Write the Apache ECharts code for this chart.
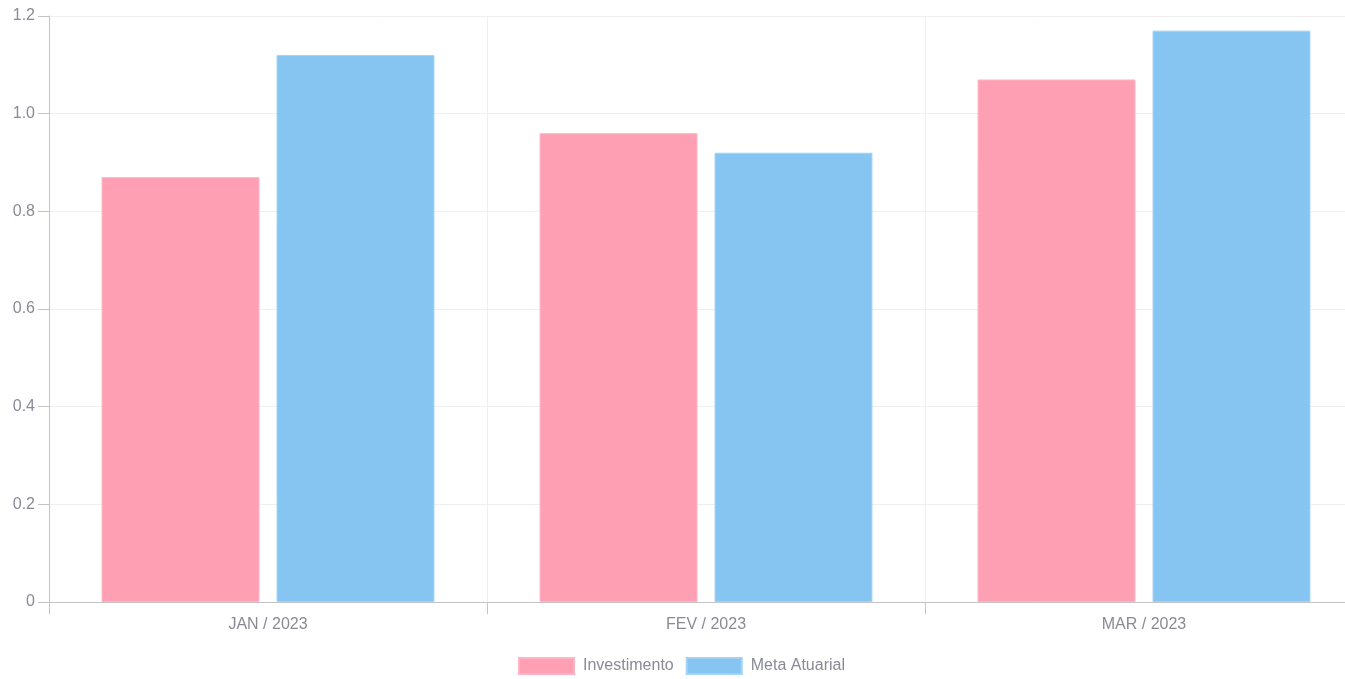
<!DOCTYPE html>
<html>
<head>
<meta charset="utf-8">
<script src="https://cdn.jsdelivr.net/npm/echarts@6/dist/echarts.min.js"></script>
<style>
  html, body { margin: 0; padding: 0; background: #fff; overflow: hidden; }
  /* the canvas runs a little past the right edge of the window */
  #chart { width: 1363px; height: 679px; }
</style>
</head>
<body>
<div id="chart"></div>
<script>
// Monthly figures
const categories = ['JAN / 2023', 'FEV / 2023', 'MAR / 2023'];
const investimento = [0.87, 0.96, 1.07];
const metaAtuarial = [1.12, 0.92, 1.17];
const yTicks = { min: 0, max: 1.2, interval: 0.2 };

const textColor = '#8a8a96';
const gridColor = '#efefef';
const axisColor = '#c4c4c8';
const font = 'Arial, "Liberation Sans", Helvetica, sans-serif';

const chart = echarts.init(document.getElementById('chart'));
chart.setOption({
  animation: false,
  textStyle: { fontFamily: font },
  grid: { left: 49, right: 0, top: 16, bottom: 77, containLabel: false },
  legend: {
    top: 657,
    left: 'center',
    padding: 0,
    itemWidth: 55,
    itemHeight: 16,
    itemGap: 12,
    icon: 'rect',
    textStyle: { color: textColor, fontSize: 16, fontFamily: font, padding: [0, 0, 0, 4] },
    data: ['Investimento', 'Meta Atuarial']
  },
  xAxis: {
    type: 'category',
    data: categories,
    axisLine: { lineStyle: { color: axisColor, width: 1 } },
    axisTick: { show: true, length: 12, lineStyle: { color: axisColor } },
    axisLabel: { color: textColor, fontSize: 16, margin: 15 },
    splitLine: { show: true, lineStyle: { color: gridColor } }
  },
  yAxis: {
    type: 'value',
    min: yTicks.min,
    max: yTicks.max,
    interval: yTicks.interval,
    axisLine: { show: true, lineStyle: { color: axisColor, width: 1 } },
    axisTick: { show: true, length: 11, lineStyle: { color: axisColor } },
    axisLabel: {
      color: textColor,
      fontSize: 16,
      margin: 14,
      formatter: v => (v === 0 ? '0' : v.toFixed(1))
    },
    splitLine: { show: true, lineStyle: { color: gridColor } }
  },
  series: [
    {
      name: 'Investimento',
      type: 'bar',
      data: investimento,
      barGap: '10.8%',
      barCategoryGap: '24%',
      itemStyle: { color: '#ff9fb3', borderColor: '#ffb3c3', borderWidth: 1 }
    },
    {
      name: 'Meta Atuarial',
      type: 'bar',
      data: metaAtuarial,
      itemStyle: { color: '#86c5f1', borderColor: '#a2d3f5', borderWidth: 1 }
    }
  ]
});
</script>
</body>
</html>
